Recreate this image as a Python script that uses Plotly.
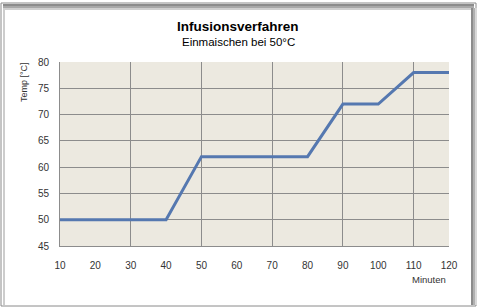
import plotly.graph_objects as go

minutes = [10, 40, 50, 80, 90, 100, 110, 120]
temps = [50, 50, 62, 62, 72, 72, 78, 78]
x_ticks = [10, 20, 30, 40, 50, 60, 70, 80, 90, 100, 110, 120]
x_grid = [30, 50, 70, 90, 110]
title = "Infusionsverfahren"
subtitle = "Einmaischen bei 50°C"
y_title = "Temp [°C]"
x_title = "Minuten"

W, H = 480, 307
L, R, T, B = 60, 31, 62, 61
PW, PH = W - L - R, H - T - B


def px(x):
    return (x - L) / PW


def py(y):
    return (H - B - y) / PH


fig = go.Figure()
fig.add_trace(go.Scatter(x=minutes, y=temps, mode="lines",
                         line=dict(color="#5578b0", width=3), showlegend=False))

shapes = []
# outer frame
shapes.append(dict(type="rect", xref="paper", yref="paper", x0=px(1), x1=px(476), y0=py(3), y1=py(306),
                   line=dict(color="#8a8a8a", width=1), layer="below"))
# top shadow band
for (a, b, c) in [(4, 6, "#8c8c8c"), (6, 8, "#a8a8a8"), (8, 10, "#cfcfcf")]:
    shapes.append(dict(type="rect", xref="paper", yref="paper", x0=px(3), x1=px(474), y0=py(a), y1=py(b),
                       fillcolor=c, line=dict(width=0), layer="below"))
# right shadow
for (a, b, c) in [(471, 473, "#8c8c8c"), (473, 475, "#b0b0b0"), (475, 477, "#d8d8d8")]:
    shapes.append(dict(type="rect", xref="paper", yref="paper", x0=px(a), x1=px(b), y0=py(8), y1=py(305),
                       fillcolor=c, line=dict(width=0), layer="below"))
# inner left line
shapes.append(dict(type="line", xref="paper", yref="paper", x0=px(4), x1=px(4), y0=py(10), y1=py(305),
                   line=dict(color="#9a9a9a", width=1), layer="below"))

fig.update_layout(
    width=W, height=H,
    margin=dict(l=L, r=R, t=T, b=B),
    paper_bgcolor="white",
    plot_bgcolor="#ece9e0",
    font=dict(family="Liberation Sans, Arial", size=10, color="#333333"),
    shapes=shapes,
    xaxis=dict(range=[10, 120], tickvals=x_ticks, showgrid=False, zeroline=False,
               showline=True, linecolor="#8c8c8c", linewidth=1,
               ticks="", ticklabelstandoff=10,
               minor=dict(tickvals=x_grid, showgrid=True, gridcolor="#8c8c8c", gridwidth=1, ticks=""),
               tickfont=dict(size=10, color="#333333")),
    yaxis=dict(range=[45, 80], dtick=5, showgrid=True, gridcolor="#8c8c8c", gridwidth=1,
               zeroline=False, showline=True, linecolor="#8c8c8c", linewidth=1,
               ticks="", ticklabelstandoff=8,
               tickfont=dict(size=10, color="#333333")),
    annotations=[
        dict(text="<b>" + title + "</b>", xref="paper", yref="paper", x=px(238), y=py(26),
             showarrow=False, font=dict(size=13.5, color="black"), xanchor="center", yanchor="middle"),
        dict(text=subtitle, xref="paper", yref="paper", x=px(238), y=py(42),
             showarrow=False, font=dict(size=11.5, color="black"), xanchor="center", yanchor="middle"),
        dict(text=y_title, xref="paper", yref="paper", x=px(24), y=py(82), textangle=-90,
             showarrow=False, font=dict(size=9, color="#333333"), xanchor="center", yanchor="middle"),
        dict(text=x_title, xref="paper", yref="paper", x=px(448), y=py(279),
             showarrow=False, font=dict(size=9.5, color="#333333"), xanchor="right", yanchor="middle"),
    ],
)

fig.write_html("out.html")
